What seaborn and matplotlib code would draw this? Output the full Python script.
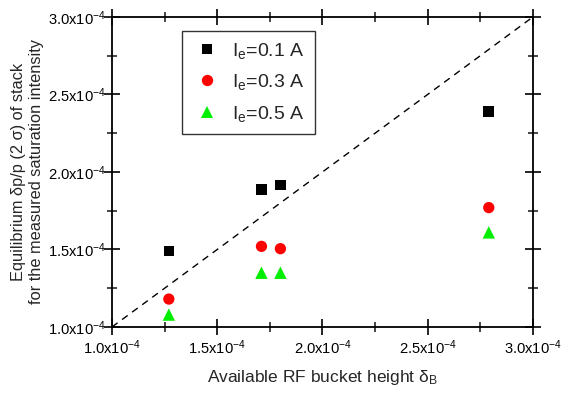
import matplotlib
matplotlib.use("Agg")
import matplotlib.pyplot as plt
from matplotlib.ticker import FixedLocator, MultipleLocator
import seaborn as sns
import pandas as pd

sns.set_style("ticks")
plt.rcParams['font.family'] = ['Liberation Sans', 'DejaVu Sans']
plt.rcParams['mathtext.fontset'] = 'custom'
plt.rcParams['mathtext.rm'] = 'Liberation Sans'
plt.rcParams['mathtext.it'] = 'Liberation Sans'

bucket_height = [1.27e-4, 1.71e-4, 1.80e-4, 2.79e-4]
dp_01A = [1.49e-4, 1.885e-4, 1.915e-4, 2.39e-4]
dp_03A = [1.18e-4, 1.52e-4, 1.505e-4, 1.77e-4]
dp_05A = [1.08e-4, 1.35e-4, 1.35e-4, 1.61e-4]
series_labels = ['I$_e$=0.1 A', 'I$_e$=0.3 A', 'I$_e$=0.5 A']
tick_values = [1.0e-4, 1.5e-4, 2.0e-4, 2.5e-4, 3.0e-4]
tick_labels = ['1.0x10$^{-4}$', '1.5x10$^{-4}$', '2.0x10$^{-4}$', '2.5x10$^{-4}$', '3.0x10$^{-4}$']

rows = []
for lab, vals in zip(series_labels, [dp_01A, dp_03A, dp_05A]):
    for x, y in zip(bucket_height, vals):
        rows.append({'x': x, 'y': y, 'series': lab})
df = pd.DataFrame(rows)

fig = plt.figure(figsize=(5.64, 3.93), dpi=100)
ax = fig.add_axes([0.1986, 0.168, 0.7464, 0.789])

ax.plot([1e-4, 3e-4], [1e-4, 3e-4], ls=(0, (5, 4)), color='black', lw=1.0, zorder=1)

sns.scatterplot(data=df, x='x', y='y', hue='series', style='series', size='series',
                palette={series_labels[0]: 'black', series_labels[1]: '#ff0000', series_labels[2]: '#00ee00'},
                markers={series_labels[0]: 's', series_labels[1]: 'o', series_labels[2]: '^'},
                sizes={series_labels[0]: 58, series_labels[1]: 66, series_labels[2]: 80},
                linewidth=0, ax=ax, zorder=3)

ax.set_xlim(1e-4, 3e-4)
ax.set_ylim(1e-4, 3e-4)
ax.xaxis.set_major_locator(FixedLocator(tick_values))
ax.yaxis.set_major_locator(FixedLocator(tick_values))
ax.set_xticklabels(tick_labels)
ax.set_yticklabels(tick_labels)
ax.xaxis.set_minor_locator(MultipleLocator(0.25e-4))
ax.yaxis.set_minor_locator(MultipleLocator(0.25e-4))

for sp in ax.spines.values():
    sp.set_visible(True)
    sp.set_linewidth(1.3)
    sp.set_color('black')

ax.tick_params(which='major', direction='inout', length=11, width=1.2, labelsize=10.6, colors='black',
               top=True, right=True)
ax.tick_params(which='minor', direction='inout', length=7, width=1.2, top=True, right=True)
ax.tick_params(axis='x', which='major', pad=3)
ax.tick_params(axis='y', which='major', pad=-1)

ax.set_xlabel('Available RF bucket height δ$_\\mathrm{B}$', fontsize=12.5, labelpad=8)
ax.set_ylabel('Equilibrium δp/p (2 σ) of stack\nfor the measured saturation intensity', fontsize=11.8)
ax.yaxis.set_label_coords(-0.162, 0.5)

leg = ax.legend(loc='upper left', bbox_to_anchor=(0.166, 0.955), borderaxespad=0, frameon=True,
                fancybox=False, fontsize=14, handletextpad=0.5, borderpad=0.5, labelspacing=0.6,
                handlelength=1.6)
leg.get_frame().set_edgecolor('black')
leg.get_frame().set_linewidth(1.0)
leg.set_title(None)

fig.savefig('out.png', dpi=100)
